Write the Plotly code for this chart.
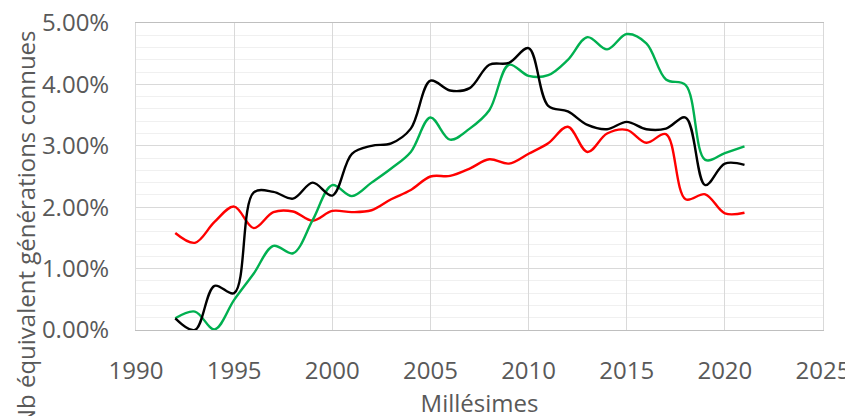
import plotly.graph_objects as go

annees = list(range(1992, 2022))

# parts (fractions)
serie_noire = [0.0019, 0.0000, 0.0072, 0.0060, 0.0224, 0.0225, 0.0214, 0.0240, 0.0219, 0.0287,
               0.0300, 0.0304, 0.0328, 0.0406, 0.0390, 0.0394, 0.0432, 0.0435, 0.0459, 0.0365,
               0.0356, 0.0334, 0.0327, 0.0339, 0.0327, 0.0328, 0.0346, 0.0236, 0.0271, 0.0269]
serie_verte = [0.0019, 0.0030, 0.0001, 0.0049, 0.0092, 0.0137, 0.0125, 0.0179, 0.0236, 0.0218,
               0.0240, 0.0263, 0.0290, 0.0346, 0.0310, 0.0328, 0.0358, 0.0432, 0.0414, 0.0415,
               0.0440, 0.0477, 0.0457, 0.0482, 0.0467, 0.0408, 0.0399, 0.0277, 0.0288, 0.0299]
serie_rouge = [0.0158, 0.0142, 0.0176, 0.0201, 0.0166, 0.0192, 0.0193, 0.0178, 0.0194, 0.0192,
               0.0195, 0.0213, 0.0228, 0.0250, 0.0251, 0.0263, 0.0278, 0.0271, 0.0287, 0.0304,
               0.0331, 0.0290, 0.0320, 0.0326, 0.0305, 0.0319, 0.0213, 0.0221, 0.0190, 0.0191]

police = "Open Sans"
gris = "#595959"

fig = go.Figure()
for valeurs, couleur in [(serie_rouge, "#ff0000"), (serie_verte, "#00b050"), (serie_noire, "#000000")]:
    fig.add_trace(go.Scatter(x=annees, y=valeurs, mode="lines",
                             line=dict(color=couleur, width=2.4, shape="spline", smoothing=1)))

# la page html ajoute 8 px de marge : on en tient compte ici
fig.update_layout(
    width=853, height=416,
    margin=dict(l=128, r=38, t=15, b=94),
    paper_bgcolor="white", plot_bgcolor="white",
    showlegend=False,
    font=dict(family=police, color=gris, size=24),
)
fig.update_xaxes(
    range=[1990, 2025], dtick=5, tick0=1990, automargin=False,
    showgrid=True, gridcolor="#d9d9d9", gridwidth=1,
    showline=True, linecolor="#bfbfbf", linewidth=1, mirror=True,
    zeroline=False, ticks="", ticklabelstandoff=19, ticklabeloverflow="allow",
    title=dict(text="Millésimes", font=dict(size=24, color=gris), standoff=9),
)
fig.update_yaxes(
    range=[0, 0.05], dtick=0.01, tickformat=".2%", automargin=False,
    showgrid=True, gridcolor="#d9d9d9", gridwidth=1,
    minor=dict(dtick=0.002, showgrid=True, gridcolor="#f0f0f0"),
    showline=True, linecolor="#d9d9d9", linewidth=1, mirror=True,
    zeroline=False, ticks="", ticklabelstandoff=21, ticklabeloverflow="allow",
)

# titre de l'axe vertical, décalé vers le bas comme sur l'original
fig.add_annotation(
    text="Nb équivalent générations connues",
    xref="paper", yref="paper", x=-0.1616, y=0.332,
    xanchor="center", yanchor="middle", textangle=-90, showarrow=False,
    font=dict(size=24, color=gris, family=police),
)

fig.write_html("out.html")
